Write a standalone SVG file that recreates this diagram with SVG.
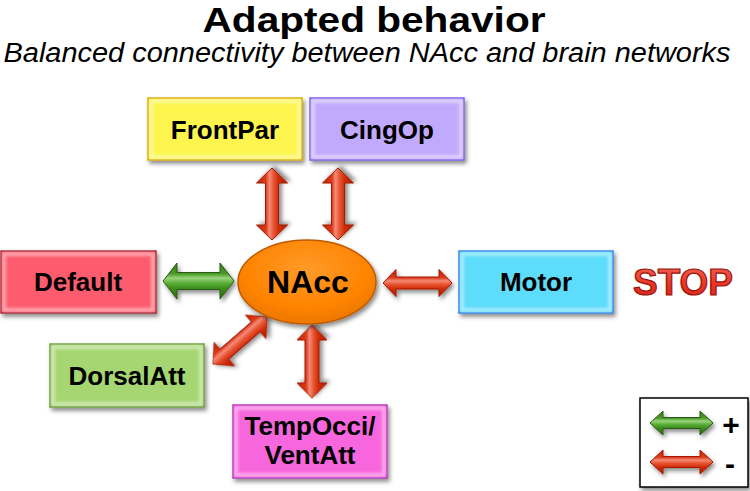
<svg xmlns="http://www.w3.org/2000/svg" width="750" height="491" viewBox="0 0 750 491">
<defs>
<style>
.t{font-family:"Liberation Sans",Arial,sans-serif;font-weight:bold;fill:#000;text-anchor:middle}
.box{stroke-width:1.5}
.glow{fill:none;stroke:#fff;stroke-opacity:.45;stroke-width:4}
.red{fill:url(#gRed);stroke:#a31800;stroke-width:1}
.grn{fill:url(#gGrn);stroke:#2b5a12;stroke-width:1}
</style>
<filter id="sh" x="-20%" y="-20%" width="140%" height="150%">
<feDropShadow dx="2" dy="3" stdDeviation="2" flood-color="#000" flood-opacity=".45"/>
</filter>
<filter id="bl"><feGaussianBlur stdDeviation="1.5"/></filter>
<linearGradient id="gRed" x1="0" y1="0" x2="0" y2="1">
<stop offset="0" stop-color="#c02300"/>
<stop offset="0.3" stop-color="#dc3a18"/>
<stop offset="0.42" stop-color="#f58a76"/>
<stop offset="0.56" stop-color="#e6522f"/>
<stop offset="0.72" stop-color="#cf2c08"/>
<stop offset="1" stop-color="#b21d00"/>
</linearGradient>
<linearGradient id="gGrn" x1="0" y1="0" x2="0" y2="1">
<stop offset="0" stop-color="#3a7d18"/>
<stop offset="0.3" stop-color="#4a9a28"/>
<stop offset="0.42" stop-color="#9ad47c"/>
<stop offset="0.56" stop-color="#5aae38"/>
<stop offset="0.72" stop-color="#3c8a1c"/>
<stop offset="1" stop-color="#2e6e12"/>
</linearGradient>
<linearGradient id="gStop" x1="0" y1="0" x2="0" y2="1">
<stop offset="0" stop-color="#f26a5a"/>
<stop offset="0.5" stop-color="#e8382a"/>
<stop offset="1" stop-color="#d42418"/>
</linearGradient>
<radialGradient id="gOr" cx="0.5" cy="0.35" r="0.6">
<stop offset="0" stop-color="#ff9a2a"/>
<stop offset="0.75" stop-color="#ff8400"/>
<stop offset="1" stop-color="#f07a00"/>
</radialGradient>
</defs>
<rect width="750" height="491" fill="#fff"/>

<g id="title">
<text class="t" x="374" y="32" font-size="35" textLength="343" lengthAdjust="spacingAndGlyphs">Adapted behavior</text>
<text x="367" y="62" font-family="Liberation Sans,Arial,sans-serif" font-style="italic" font-size="27" text-anchor="middle" textLength="727" lengthAdjust="spacingAndGlyphs">Balanced connectivity between NAcc and brain networks</text>
</g>

<g id="connectors">
<path class="red" filter="url(#sh)" d="M-36,0 L-21,-15.5 L-21,-6.5 L21,-6.5 L21,-15.5 L36,0 L21,15.5 L21,6.5 L-21,6.5 L-21,15.5Z" transform="translate(272,204) rotate(-90)"/>
<path class="red" filter="url(#sh)" d="M-36,0 L-21,-15.5 L-21,-6.5 L21,-6.5 L21,-15.5 L36,0 L21,15.5 L21,6.5 L-21,6.5 L-21,15.5Z" transform="translate(338,204) rotate(-90)"/>
<path class="grn" filter="url(#sh)" d="M-35.5,0 L-21.5,-18 L-21.5,-8.5 L21.5,-8.5 L21.5,-18 L35.5,0 L21.5,18 L21.5,8.5 L-21.5,8.5 L-21.5,18Z" transform="translate(198.5,281)"/>
<path class="red" filter="url(#sh)" d="M-34.5,0 L-21.5,-13.5 L-21.5,-6 L21.5,-6 L21.5,-13.5 L34.5,0 L21.5,13.5 L21.5,6 L-21.5,6 L-21.5,13.5Z" transform="translate(417.5,283)"/>
<path class="red" filter="url(#sh)" d="M-36,0 L-21,-15.5 L-21,-6.5 L21,-6.5 L21,-15.5 L36,0 L21,15.5 L21,6.5 L-21,6.5 L-21,15.5Z" transform="translate(240,340.5) rotate(-41)"/>
<path class="red" filter="url(#sh)" d="M-36.5,0 L-21.5,-15 L-21.5,-7 L21.5,-7 L21.5,-15 L36.5,0 L21.5,15 L21.5,7 L-21.5,7 L-21.5,15Z" transform="translate(312,361.5) rotate(-90)"/>
</g>

<g id="frontpar">
<rect class="box" x="148" y="98" width="154" height="62" fill="#fdf54e" stroke="#d9a800" filter="url(#sh)"/>
<rect class="glow" x="151" y="101" width="148" height="56" filter="url(#bl)"/>
<text class="t" x="225" y="139" font-size="26">FrontPar</text>
</g>
<g id="cingop">
<rect class="box" x="310" y="98" width="154" height="62" fill="#c1a9fd" stroke="#7e5ae6" filter="url(#sh)"/>
<rect class="glow" x="313" y="101" width="148" height="56" filter="url(#bl)"/>
<text class="t" x="387" y="139" font-size="26">CingOp</text>
</g>
<g id="default">
<rect class="box" x="1" y="251" width="155" height="62" fill="#fd5b6e" stroke="#a8202c" filter="url(#sh)"/>
<rect class="glow" x="4" y="254" width="149" height="56" filter="url(#bl)"/>
<text class="t" x="78" y="291" font-size="26">Default</text>
</g>
<g id="nacc">
<ellipse cx="307" cy="282" rx="69" ry="42" fill="url(#gOr)" stroke="#c05a00" stroke-width="1.5" filter="url(#sh)"/>
<text class="t" x="308" y="293" font-size="32">NAcc</text>
</g>
<g id="motor">
<rect class="box" x="459" y="251" width="154" height="62" fill="#5ddcfb" stroke="#2f80e6" filter="url(#sh)"/>
<rect class="glow" x="462" y="254" width="148" height="56" filter="url(#bl)"/>
<text class="t" x="536" y="291" font-size="26">Motor</text>
</g>
<g id="stop">
<text class="t" x="683" y="295" font-size="37" stroke="#9a1208" stroke-width="1.2" style="fill:url(#gStop)">STOP</text>
</g>
<g id="dorsalatt">
<rect class="box" x="50" y="344" width="154" height="63" fill="#a6d672" stroke="#6b9a3a" filter="url(#sh)"/>
<rect class="glow" x="53" y="347" width="148" height="57" filter="url(#bl)"/>
<text class="t" x="127" y="385" font-size="26">DorsalAtt</text>
</g>
<g id="tempocci">
<rect class="box" x="233" y="405" width="154" height="73" fill="#f766dc" stroke="#b032b4" filter="url(#sh)"/>
<rect class="glow" x="236" y="408" width="148" height="67" filter="url(#bl)"/>
<text class="t" x="310" y="435" font-size="26">TempOcci/</text>
<text class="t" x="310" y="464" font-size="26">VentAtt</text>
</g>
<g id="legend">
<rect x="640" y="398" width="108" height="89" fill="#fff" stroke="#000" stroke-width="1.5" filter="url(#sh)"/>
<path class="grn" filter="url(#sh)" d="M-31.5,0 L-18.5,-12 L-18.5,-5.5 L18.5,-5.5 L18.5,-12 L31.5,0 L18.5,12 L18.5,5.5 L-18.5,5.5 L-18.5,12Z" transform="translate(681.5,423)"/>
<path class="red" filter="url(#sh)" d="M-31.5,0 L-18.5,-12 L-18.5,-5.5 L18.5,-5.5 L18.5,-12 L31.5,0 L18.5,12 L18.5,5.5 L-18.5,5.5 L-18.5,12Z" transform="translate(681.5,462)"/>
<text class="t" x="731" y="435" font-size="30">+</text>
<text class="t" x="730" y="474" font-size="30">-</text>
</g>
</svg>
